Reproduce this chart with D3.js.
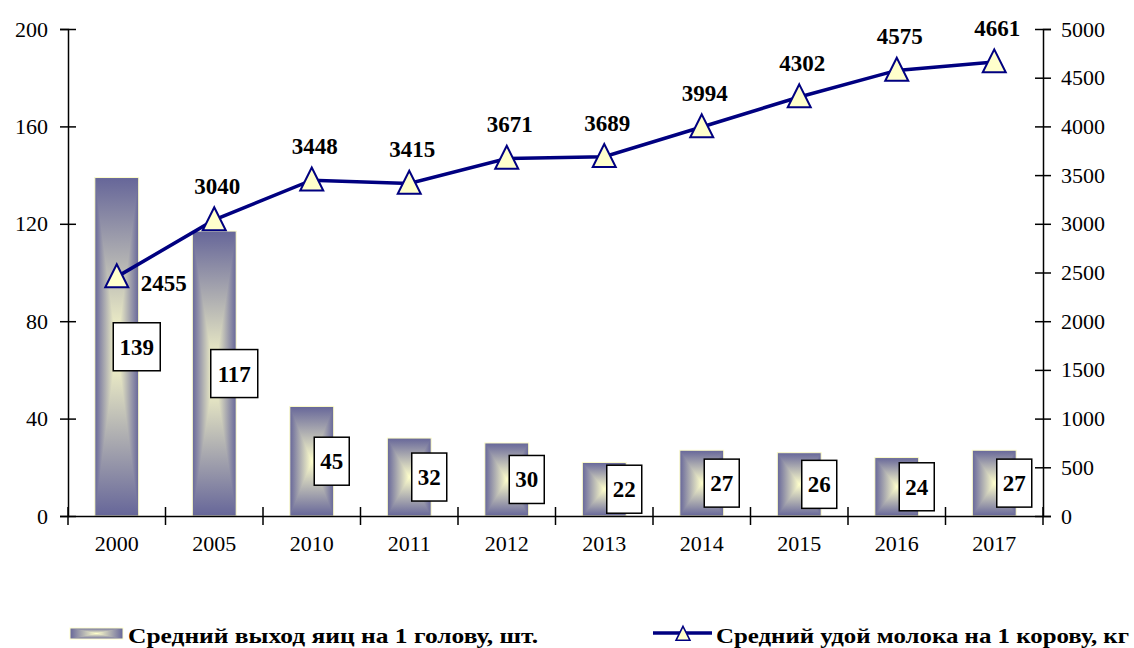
<!DOCTYPE html>
<html>
<head>
<meta charset="utf-8">
<script src="https://cdn.jsdelivr.net/npm/d3@7"></script>
<style>
body { margin: 0; background: #fff; }
</style>
</head>
<body>
<script>
var width = 1134, height = 648;

// data
var years = ["2000", "2005", "2010", "2011", "2012", "2013", "2014", "2015", "2016", "2017"];
var eggs = [139, 117, 45, 32, 30, 22, 27, 26, 24, 27];
var milk = [2455, 3040, 3448, 3415, 3671, 3689, 3994, 4302, 4575, 4661];
var leftTicks = [0, 40, 80, 120, 160, 200];
var rightTicks = [0, 500, 1000, 1500, 2000, 2500, 3000, 3500, 4000, 4500, 5000];
var legendNames = ["Средний выход яиц на 1 голову, шт.", "Средний удой молока на 1 корову, кг"];

var blue = "#666699", pale = "#ffffcc", navy = "#000080";
var serif = "'Liberation Serif', 'Times New Roman', serif";

var svg = d3.select("body").append("svg")
  .attr("width", width)
  .attr("height", height);

var defs = svg.append("defs");
function grad(id, x2, y2, from, to) {
  var g = defs.append("linearGradient").attr("id", id)
    .attr("x1", 0).attr("y1", 0).attr("x2", x2).attr("y2", y2);
  g.append("stop").attr("offset", "0%").attr("stop-color", from);
  g.append("stop").attr("offset", "100%").attr("stop-color", to);
}
// horizontal: blue edge -> pale centre -> blue edge
var hg = defs.append("linearGradient").attr("id", "gH");
hg.append("stop").attr("offset", "0%").attr("stop-color", blue);
hg.append("stop").attr("offset", "50%").attr("stop-color", pale);
hg.append("stop").attr("offset", "100%").attr("stop-color", blue);
grad("gTop", 0, 1, blue, pale);
grad("gBot", 0, 1, pale, blue);

var x = d3.scaleBand().domain(years).range([68, 1043]);
var yL = d3.scaleLinear().domain([0, 200]).range([516, 29]);
var yR = d3.scaleLinear().domain([0, 5000]).range([516, 29]);
var barW = x.bandwidth() * 0.45;
var cx = function(d) { return x(d) + x.bandwidth() / 2; };

// "from centre" rectangle fill: horizontal gradient + top/bottom triangles
function centreRect(g, x0, y0, w, h) {
  var x1 = x0 + w, y1 = y0 + h, mx = x0 + w / 2, my = y0 + h / 2;
  g.append("rect").attr("x", x0).attr("y", y0).attr("width", w).attr("height", h)
    .attr("fill", "url(#gH)");
  g.append("path").attr("d", "M" + x0 + "," + y0 + "L" + x1 + "," + y0 + "L" + mx + "," + my + "Z")
    .attr("fill", "url(#gTop)");
  g.append("path").attr("d", "M" + x0 + "," + y1 + "L" + x1 + "," + y1 + "L" + mx + "," + my + "Z")
    .attr("fill", "url(#gBot)");
  g.append("rect").attr("x", x0).attr("y", y0).attr("width", w).attr("height", h)
    .attr("fill", "none").attr("stroke", pale).attr("stroke-width", 1);
}

// bars
var bars = svg.append("g");
years.forEach(function(yr, i) {
  centreRect(bars.append("g"), cx(yr) - barW / 2, yL(eggs[i]), barW, yL(0) - yL(eggs[i]));
});

// axes
var axL = svg.append("g").attr("transform", "translate(68,0)")
  .call(d3.axisLeft(yL).tickValues(leftTicks).tickSize(8).tickPadding(12));
axL.selectAll(".tick line").attr("x1", 8);
var axR = svg.append("g").attr("transform", "translate(1043,0)")
  .call(d3.axisRight(yR).tickValues(rightTicks).tickFormat(d3.format("d")).tickSize(8).tickPadding(10));
axR.selectAll(".tick line").attr("x1", -8);
var axB = svg.append("g").attr("transform", "translate(0,516)")
  .call(d3.axisBottom(x).tickSize(0).tickPadding(28));
axB.selectAll(".tick text").attr("dy", "0.3em");
// category boundary ticks
var bounds = years.map(function(d) { return x(d); }).concat([x(years[years.length - 1]) + x.bandwidth()]);
axB.selectAll(".bound").data(bounds).enter().append("line")
  .attr("x1", function(d) { return d; }).attr("x2", function(d) { return d; })
  .attr("y1", -9).attr("y2", 9).attr("stroke", "#000").attr("stroke-width", 1.5);
[axL, axR, axB].forEach(function(a) {
  a.selectAll("path.domain").attr("stroke", "#000").attr("stroke-width", 1.5);
  a.selectAll(".tick line").attr("stroke", "#000").attr("stroke-width", 1.5);
  a.selectAll("text").style("font-family", serif).style("font-size", "22px").attr("fill", "#000");
});

// bar value boxes
var boxes = svg.append("g");
years.forEach(function(yr, i) {
  var txt = String(eggs[i]);
  var bw = txt.length > 2 ? 47 : 35, bh = 48;
  var bx = cx(yr) + 20, by = (yL(eggs[i]) + yL(0)) / 2;
  boxes.append("rect").attr("x", bx - bw / 2).attr("y", by - bh / 2)
    .attr("width", bw).attr("height", bh)
    .attr("fill", "#fff").attr("stroke", "#000").attr("stroke-width", 1.5);
  boxes.append("text").attr("x", bx).attr("y", by + 8)
    .attr("text-anchor", "middle")
    .style("font-family", serif).style("font-size", "23px").style("font-weight", "bold")
    .text(txt);
});

// milk line
var line = d3.line()
  .x(function(d, i) { return cx(years[i]); })
  .y(function(d) { return yR(d); });
svg.append("path").datum(milk).attr("d", line)
  .attr("fill", "none").attr("stroke", navy).attr("stroke-width", 3.5);

var tri = function(s) { return "M0," + (-s * 0.55) + "L" + (s / 2) + "," + (s * 0.45) + "L" + (-s / 2) + "," + (s * 0.45) + "Z"; };
svg.append("g").selectAll("path").data(milk).enter().append("path")
  .attr("transform", function(d, i) { return "translate(" + cx(years[i]) + "," + yR(d) + ")"; })
  .attr("d", tri(23))
  .attr("fill", pale).attr("stroke", navy).attr("stroke-width", 2);

svg.append("g").selectAll("text").data(milk).enter().append("text")
  .attr("x", function(d, i) { return i === 0 ? cx(years[i]) + 24 : cx(years[i]) + 3; })
  .attr("y", function(d, i) { return i === 0 ? yR(d) + 14 : yR(d) - 26; })
  .attr("text-anchor", function(d, i) { return i === 0 ? "start" : "middle"; })
  .style("font-family", serif).style("font-size", "23px").style("font-weight", "bold")
  .text(function(d) { return d; });

// legend
var lg = svg.append("g");
centreRect(lg.append("g"), 70, 628, 53, 11);
lg.append("text").attr("x", 128).attr("y", 643)
  .attr("textLength", 410).attr("lengthAdjust", "spacingAndGlyphs")
  .style("font-family", serif).style("font-size", "22px").style("font-weight", "bold")
  .text(legendNames[0]);
lg.append("line").attr("x1", 653).attr("x2", 712).attr("y1", 633).attr("y2", 633)
  .attr("stroke", navy).attr("stroke-width", 3.5);
lg.append("path").attr("transform", "translate(683,634)").attr("d", tri(14))
  .attr("fill", pale).attr("stroke", navy).attr("stroke-width", 1.5);
lg.append("text").attr("x", 716).attr("y", 643)
  .attr("textLength", 413).attr("lengthAdjust", "spacingAndGlyphs")
  .style("font-family", serif).style("font-size", "22px").style("font-weight", "bold")
  .text(legendNames[1]);
</script>
</body>
</html>
